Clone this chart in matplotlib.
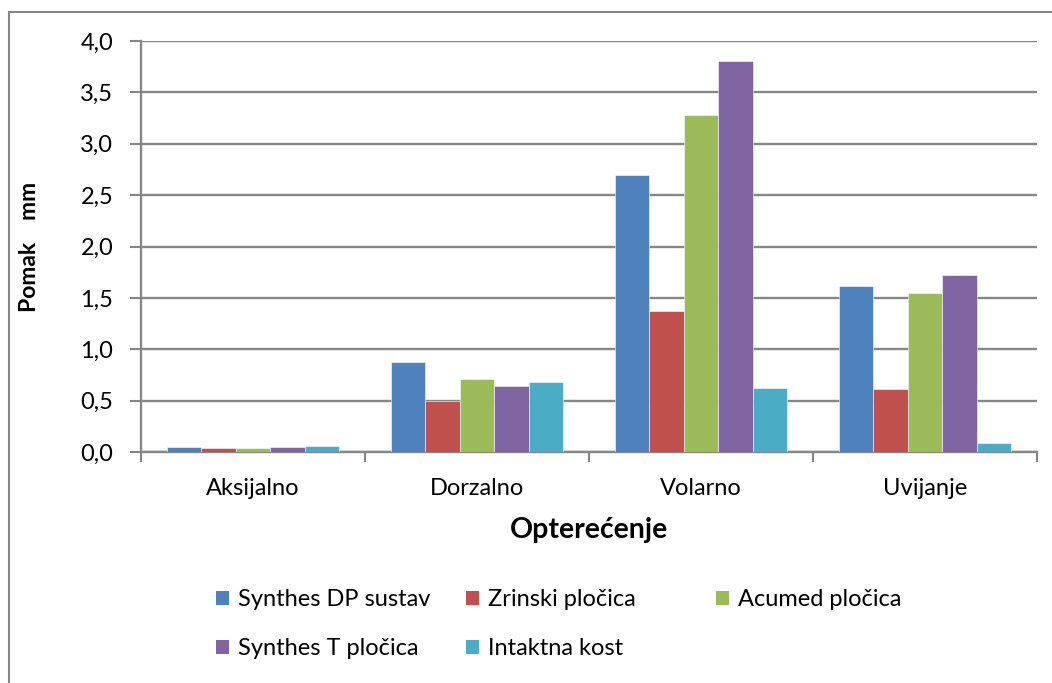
import matplotlib
matplotlib.use("Agg")
import matplotlib.pyplot as plt
import numpy as np
from matplotlib.patches import Rectangle, Patch

categories = ["Aksijalno", "Dorzalno", "Volarno", "Uvijanje"]
series_names = ["Synthes DP sustav", "Zrinski pločica", "Acumed pločica",
                "Synthes T pločica", "Intaktna kost"]
synthes_dp = [0.05, 0.88, 2.70, 1.62]
zrinski = [0.04, 0.50, 1.37, 0.61]
acumed = [0.04, 0.71, 3.28, 1.55]
synthes_t = [0.045, 0.64, 3.81, 1.72]
intaktna = [0.06, 0.68, 0.62, 0.085]
colors = ["#4F81BD", "#C0504D", "#9BBB59", "#8064A2", "#4BACC6"]
yticks = [0.0, 0.5, 1.0, 1.5, 2.0, 2.5, 3.0, 3.5, 4.0]

series = [synthes_dp, zrinski, acumed, synthes_t, intaktna]

plt.rcParams['font.family'] = ['Lato', 'DejaVu Sans']

W, H = 1052, 683
fig = plt.figure(figsize=(W / 100, H / 100), dpi=100)

# outer border
fig.patches.append(Rectangle((8.5 / W, -0.1), 1.2, 1 - 12.5 / H + 0.1,
                             transform=fig.transFigure, fill=False,
                             edgecolor="#868686", linewidth=1.5, zorder=0))

left, right, top, bottom = 141, 1037, 41, 452
ax = fig.add_axes([left / W, 1 - bottom / H, (right - left) / W, (bottom - top) / H])

n = len(series)
bw = 1 / 6.5
x = np.arange(len(categories))
for i, (vals, c) in enumerate(zip(series, colors)):
    ax.bar(x + (i - (n - 1) / 2) * bw, vals, width=bw, color=c,
           edgecolor="#ffffff", linewidth=0.4, zorder=3, label=series_names[i])

ax.set_xlim(-0.5, len(categories) - 0.5)
ax.set_ylim(0, 4.0)
ax.set_yticks(yticks)
ax.set_yticklabels([f"{v:.1f}".replace(".", ",") for v in yticks], fontsize=17)
ax.yaxis.grid(True, color="#868686", linewidth=1.7, zorder=1)
ax.set_axisbelow(True)

ax.set_xticks(x)
ax.set_xticklabels(categories, fontsize=17)
ax.set_xticks(np.arange(len(categories) + 1) - 0.5, minor=True)
ax.tick_params(axis="x", which="major", length=0, pad=19)
ax.tick_params(axis="x", which="minor", length=7, width=1.5, color="#868686", direction="out")
ax.tick_params(axis="y", length=8, width=1.5, color="#868686", direction="out", pad=12)

for s in ["top", "right"]:
    ax.spines[s].set_visible(False)
for s in ["left", "bottom"]:
    ax.spines[s].set_color("#868686")
    ax.spines[s].set_linewidth(1.7)

ax.set_ylabel("Pomak    mm", fontsize=16.5, fontweight="bold")
ax.yaxis.set_label_coords((40 - left) / (right - left), 0.5)
fig.text(589 / W, 1 - 530 / H, "Opterećenje", fontsize=20.5, fontweight="bold",
         ha="center", va="center")

# legend: three columns at fixed positions
handles = [Patch(facecolor=c, edgecolor="none") for c in colors]
cols = [([0, 3], 216), ([1, 4], 466), ([2], 716)]
for idxs, xpx in cols:
    leg = fig.legend([handles[i] for i in idxs], [series_names[i] for i in idxs],
                     loc="upper left", bbox_to_anchor=(xpx / W, 1 - 589 / H),
                     frameon=False, fontsize=17, handlelength=0.55, handleheight=0.55,
                     handletextpad=0.4, labelspacing=1.2, borderaxespad=0, borderpad=0)

fig.savefig("out.png", dpi=100)
